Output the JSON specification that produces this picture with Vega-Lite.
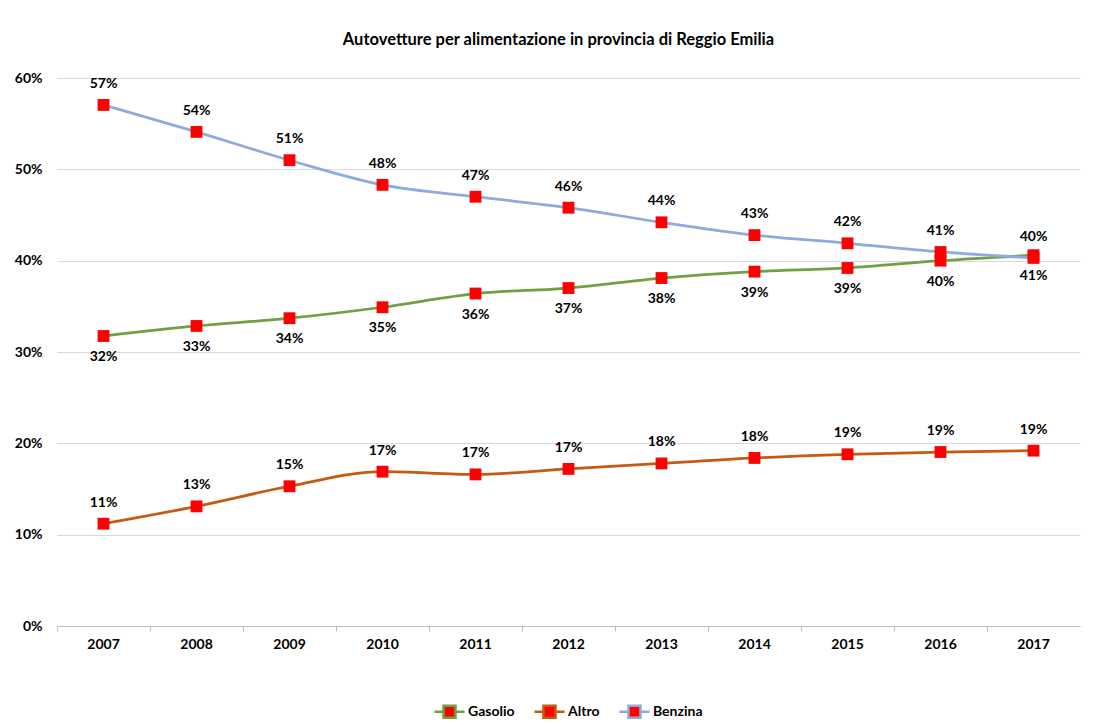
{
  "$schema": "https://vega.github.io/schema/vega-lite/v6.json",
  "width": 1023,
  "height": 548,
  "autosize": {"type": "none"},
  "padding": {"left": 57, "top": 78, "right": 13, "bottom": 99},
  "background": "white",
  "title": {
    "text": "Autovetture per alimentazione in provincia di Reggio Emilia",
    "font": "Lato",
    "fontSize": 16.5,
    "fontWeight": "bold",
    "color": "#000000",
    "anchor": "middle",
    "dx": -10,
    "offset": 23
  },
  "config": {
    "font": "Lato",
    "view": {"stroke": null}
  },
  "data": {
    "values": [
      {"anno": "2007", "serie": "Gasolio", "valore": 0.3175},
      {"anno": "2008", "serie": "Gasolio", "valore": 0.3285},
      {"anno": "2009", "serie": "Gasolio", "valore": 0.337},
      {"anno": "2010", "serie": "Gasolio", "valore": 0.349},
      {"anno": "2011", "serie": "Gasolio", "valore": 0.364},
      {"anno": "2012", "serie": "Gasolio", "valore": 0.370},
      {"anno": "2013", "serie": "Gasolio", "valore": 0.381},
      {"anno": "2014", "serie": "Gasolio", "valore": 0.388},
      {"anno": "2015", "serie": "Gasolio", "valore": 0.392},
      {"anno": "2016", "serie": "Gasolio", "valore": 0.400},
      {"anno": "2017", "serie": "Gasolio", "valore": 0.406},
      {"anno": "2007", "serie": "Altro", "valore": 0.112},
      {"anno": "2008", "serie": "Altro", "valore": 0.131},
      {"anno": "2009", "serie": "Altro", "valore": 0.153},
      {"anno": "2010", "serie": "Altro", "valore": 0.169},
      {"anno": "2011", "serie": "Altro", "valore": 0.166},
      {"anno": "2012", "serie": "Altro", "valore": 0.172},
      {"anno": "2013", "serie": "Altro", "valore": 0.178},
      {"anno": "2014", "serie": "Altro", "valore": 0.184},
      {"anno": "2015", "serie": "Altro", "valore": 0.188},
      {"anno": "2016", "serie": "Altro", "valore": 0.1905},
      {"anno": "2017", "serie": "Altro", "valore": 0.192},
      {"anno": "2007", "serie": "Benzina", "valore": 0.5705},
      {"anno": "2008", "serie": "Benzina", "valore": 0.541},
      {"anno": "2009", "serie": "Benzina", "valore": 0.510},
      {"anno": "2010", "serie": "Benzina", "valore": 0.483},
      {"anno": "2011", "serie": "Benzina", "valore": 0.470},
      {"anno": "2012", "serie": "Benzina", "valore": 0.458},
      {"anno": "2013", "serie": "Benzina", "valore": 0.442},
      {"anno": "2014", "serie": "Benzina", "valore": 0.428},
      {"anno": "2015", "serie": "Benzina", "valore": 0.419},
      {"anno": "2016", "serie": "Benzina", "valore": 0.4095},
      {"anno": "2017", "serie": "Benzina", "valore": 0.403}
    ]
  },
  "encoding": {
    "x": {
      "field": "anno",
      "type": "ordinal",
      "scale": {"type": "band", "paddingInner": 0, "paddingOuter": 0},
      "axis": {
        "title": null,
        "labelAngle": 0,
        "bandPosition": 0,
        "labelFont": "Lato",
        "labelFontSize": 14,
        "labelFontWeight": "bold",
        "labelColor": "#000000",
        "labelPadding": 6,
        "domainColor": "#BFBFBF",
        "domainWidth": 1,
        "tickColor": "#BFBFBF",
        "tickSize": 5,
        "grid": false
      }
    },
    "y": {
      "field": "valore",
      "type": "quantitative",
      "scale": {"domain": [0, 0.6], "nice": false},
      "axis": {
        "title": null,
        "format": ".0%",
        "values": [0, 0.1, 0.2, 0.3, 0.4, 0.5, 0.6],
        "domain": false,
        "ticks": false,
        "labelFont": "Lato",
        "labelFontSize": 14,
        "labelFontWeight": "bold",
        "labelColor": "#000000",
        "labelPadding": 15,
        "gridColor": "#D9D9D9",
        "gridWidth": 1
      }
    }
  },
  "layer": [
    {
      "mark": {"type": "line", "interpolate": "monotone", "strokeWidth": 2.75},
      "encoding": {
        "stroke": {
          "field": "serie",
          "type": "nominal",
          "scale": {
            "domain": ["Gasolio", "Altro", "Benzina"],
            "range": ["#70A042", "#C55A11", "#8FAADC"]
          },
          "legend": {
            "title": null,
            "orient": "none",
            "legendX": 376,
            "legendY": 617,
            "direction": "horizontal",
            "symbolType": "M-1,0H-0.4M0.4,0H1M-0.4,-0.4H0.4V0.4H-0.4Z",
            "symbolSize": 900,
            "symbolStrokeWidth": 2.5,
            "symbolFillColor": "#FF0000",
            "labelFont": "Lato",
            "labelFontSize": 14,
            "labelFontWeight": "bold",
            "labelColor": "#000000",
            "labelOffset": 2,
            "columnPadding": 14
          }
        }
      }
    },
    {
      "mark": {"type": "point", "shape": "square", "filled": true, "size": 140, "color": "#FF0000", "opacity": 1},
      "encoding": {"detail": {"field": "serie"}}
    },
    {
      "transform": [{"filter": "datum.serie === 'Benzina' || datum.serie === 'Altro'"}],
      "mark": {"type": "text", "dy": -21, "font": "Lato", "fontSize": 14, "fontWeight": "bold", "color": "#000000"},
      "encoding": {"text": {"field": "valore", "type": "quantitative", "format": ".0%"}}
    },
    {
      "transform": [{"filter": "datum.serie === 'Gasolio'"}],
      "mark": {"type": "text", "dy": 21, "font": "Lato", "fontSize": 14, "fontWeight": "bold", "color": "#000000"},
      "encoding": {"text": {"field": "valore", "type": "quantitative", "format": ".0%"}}
    }
  ]
}
